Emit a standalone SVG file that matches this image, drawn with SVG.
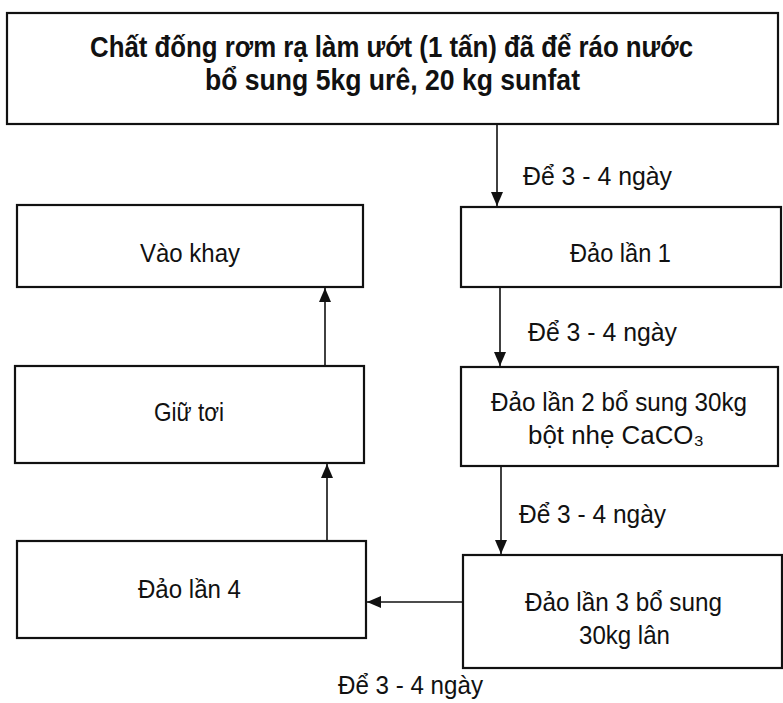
<svg xmlns="http://www.w3.org/2000/svg" width="783" height="703" viewBox="0 0 783 703">
<defs>
<style>
.box{fill:#fff;stroke:#111;stroke-width:2.2}
.t{font-family:"Liberation Sans",Arial,sans-serif;font-size:26.5px;fill:#111}
.tb{font-family:"Liberation Sans",Arial,sans-serif;font-size:29px;font-weight:bold;fill:#111}
.c{fill:none;stroke:#111;stroke-width:1.6}
</style>
<marker id="ah" markerUnits="userSpaceOnUse" markerWidth="14" markerHeight="12" refX="14" refY="6" orient="auto">
<path d="M0,0 L14,6 L0,12 z" fill="#111"/>
</marker>
</defs>
<rect width="783" height="703" fill="#fff"/>
<g id="connectors">
<line class="c" x1="497" y1="124" x2="497" y2="206" marker-end="url(#ah)"/>
<line class="c" x1="500" y1="287" x2="500" y2="366" marker-end="url(#ah)"/>
<line class="c" x1="501" y1="466" x2="501" y2="554" marker-end="url(#ah)"/>
<line class="c" x1="463" y1="602" x2="367" y2="602" marker-end="url(#ah)"/>
<line class="c" x1="327" y1="541" x2="327" y2="464" marker-end="url(#ah)"/>
<line class="c" x1="325" y1="366" x2="325" y2="288" marker-end="url(#ah)"/>
<text class="t" x="523" y="185" textLength="149" lengthAdjust="spacingAndGlyphs">Để 3 - 4 ngày</text>
<text class="t" x="528" y="341" textLength="149" lengthAdjust="spacingAndGlyphs">Để 3 - 4 ngày</text>
<text class="t" x="519" y="523" textLength="147" lengthAdjust="spacingAndGlyphs">Để 3 - 4 ngày</text>
<text class="t" x="338" y="694" textLength="145" lengthAdjust="spacingAndGlyphs">Để 3 - 4 ngày</text>
</g>
<g id="start">
<rect class="box" x="7" y="13" width="771" height="111"/>
<text class="tb" x="90" y="57" textLength="603" lengthAdjust="spacingAndGlyphs">Chất đống rơm rạ làm ướt (1 tấn) đã để ráo nước</text>
<text class="tb" x="205" y="90" textLength="375" lengthAdjust="spacingAndGlyphs">bổ sung 5kg urê, 20 kg sunfat</text>
</g>
<g id="vao-khay">
<rect class="box" x="17" y="205" width="346" height="82"/>
<text class="t" x="140" y="262" textLength="100" lengthAdjust="spacingAndGlyphs">Vào khay</text>
</g>
<g id="giu-toi">
<rect class="box" x="15" y="366" width="349" height="97"/>
<text class="t" x="154" y="421" textLength="70" lengthAdjust="spacingAndGlyphs">Giữ tơi</text>
</g>
<g id="dao-4">
<rect class="box" x="17" y="541" width="349" height="97"/>
<text class="t" x="138" y="598" textLength="103" lengthAdjust="spacingAndGlyphs">Đảo lần 4</text>
</g>
<g id="dao-1">
<rect class="box" x="461" y="207" width="320" height="80"/>
<text class="t" x="570" y="262" textLength="101" lengthAdjust="spacingAndGlyphs">Đảo lần 1</text>
</g>
<g id="dao-2">
<rect class="box" x="461" y="367" width="317" height="99"/>
<text class="t" x="491" y="411" textLength="256" lengthAdjust="spacingAndGlyphs">Đảo lần 2 bổ sung 30kg</text>
<text class="t" x="528" y="444" textLength="176" lengthAdjust="spacingAndGlyphs">bột nhẹ CaCO₃</text>
</g>
<g id="dao-3">
<rect class="box" x="463" y="555" width="319" height="113"/>
<text class="t" x="525" y="611" textLength="197" lengthAdjust="spacingAndGlyphs">Đảo lần 3 bổ sung</text>
<text class="t" x="579" y="644" textLength="91" lengthAdjust="spacingAndGlyphs">30kg lân</text>
</g>
</svg>
